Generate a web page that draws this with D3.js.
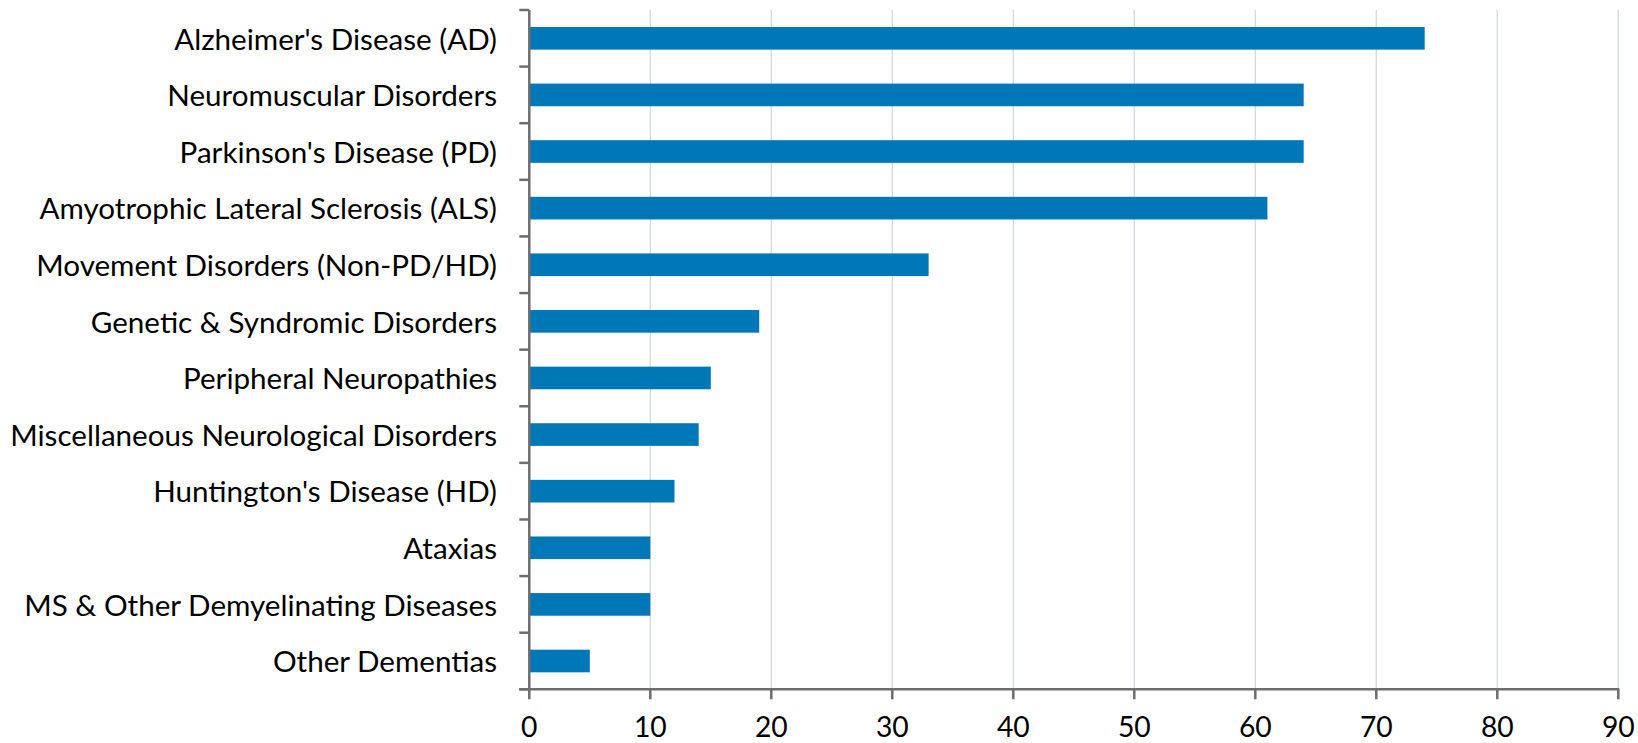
<!DOCTYPE html>
<html>
<head>
<meta charset="utf-8">
<script src="https://cdn.jsdelivr.net/npm/d3@7"></script>
<style>
  html, body { margin: 0; padding: 0; background: #fff; }
  svg { display: block; }
  text { font-family: Lato, "Open Sans", sans-serif; fill: #000; }
</style>
</head>
<body>
<svg id="chart" width="1638" height="743"></svg>
<script>
const categories = [
  "Alzheimer's Disease (AD)",
  "Neuromuscular Disorders",
  "Parkinson's Disease (PD)",
  "Amyotrophic Lateral Sclerosis (ALS)",
  "Movement Disorders (Non-PD/HD)",
  "Genetic & Syndromic Disorders",
  "Peripheral Neuropathies",
  "Miscellaneous Neurological Disorders",
  "Huntington's Disease (HD)",
  "Ataxias",
  "MS & Other Demyelinating Diseases",
  "Other Dementias"
];
const values = [74, 64, 64, 61, 33, 19, 15, 14, 12, 10, 10, 5];
const xTicks = [0, 10, 20, 30, 40, 50, 60, 70, 80, 90];

const margin = { left: 529.3, right: 1638 - 1618.3, top: 10, bottom: 743 - 689.3 };
const W = 1638, H = 743;
const svg = d3.select("#chart");

const x = d3.scaleLinear().domain([0, 90]).range([margin.left, W - margin.right]);
const y = d3.scaleBand().domain(categories).range([margin.top, H - margin.bottom])
  .paddingInner(0.6).paddingOuter(0.3);

const fontSize = 28.3;
const yFontSize = 29.6;
const axisColor = "#6e6e6e";

// gridlines
svg.append("g").selectAll("line").data(xTicks.filter(d => d > 0)).join("line")
  .attr("x1", d => x(d)).attr("x2", d => x(d))
  .attr("y1", margin.top).attr("y2", H - margin.bottom)
  .attr("stroke", "#d5d8de").attr("stroke-width", 1.3);

// bars
svg.append("g").selectAll("rect").data(values).join("rect")
  .attr("x", x(0))
  .attr("y", (d, i) => y(categories[i]))
  .attr("width", d => x(d) - x(0))
  .attr("height", y.bandwidth())
  .attr("fill", "#0078b7");

// y axis line
const step = y.step();
const bounds = d3.range(categories.length + 1).map(i => margin.top + i * step);
svg.append("line")
  .attr("x1", x(0)).attr("x2", x(0))
  .attr("y1", margin.top).attr("y2", H - margin.bottom)
  .attr("stroke", axisColor).attr("stroke-width", 2.5);
svg.append("g").selectAll("line").data(bounds).join("line")
  .attr("x1", x(0) - 10).attr("x2", x(0))
  .attr("y1", d => d).attr("y2", d => d)
  .attr("stroke", axisColor).attr("stroke-width", 2.5);

// x axis line
svg.append("line")
  .attr("x1", x(0) - 10).attr("x2", x(90) + 1)
  .attr("y1", H - margin.bottom).attr("y2", H - margin.bottom)
  .attr("stroke", axisColor).attr("stroke-width", 2.5);
svg.append("g").selectAll("line").data(xTicks).join("line")
  .attr("x1", d => x(d)).attr("x2", d => x(d))
  .attr("y1", H - margin.bottom).attr("y2", H - margin.bottom + 10)
  .attr("stroke", axisColor).attr("stroke-width", 2.5);

// x tick labels
const xl = svg.append("g").selectAll("text").data(xTicks).join("text")
  .attr("x", d => x(d)).attr("y", 739)
  .attr("text-anchor", "middle")
  .attr("font-size", fontSize)
  .text(d => d);
// keep the label boxes inside the picture
let maxBottom = 0;
xl.each(function() { const b = this.getBBox(); maxBottom = Math.max(maxBottom, b.y + b.height); });
if (maxBottom > H - 0.5) xl.attr("y", 739 - (maxBottom - (H - 0.5)));

// y labels
svg.append("g").selectAll("text").data(categories).join("text")
  .attr("x", 497)
  .attr("y", d => y(d) + y.bandwidth() / 2)
  .attr("dy", "0.38em")
  .attr("text-anchor", "end")
  .attr("font-size", yFontSize)
  .text(d => d);
</script>
</body>
</html>
